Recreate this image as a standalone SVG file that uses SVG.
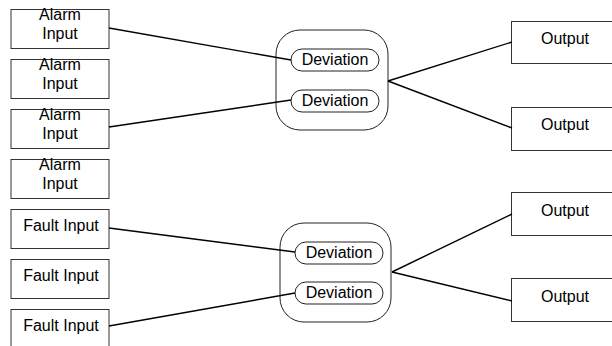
<svg xmlns="http://www.w3.org/2000/svg" width="612" height="346" viewBox="0 0 612 346">
<style>
.box{fill:#fff;stroke:#333;stroke-width:1}
.grp{fill:#fff;stroke:#222;stroke-width:1}
.pill{fill:#fff;stroke:#222;stroke-width:1}
.t{font-family:"Liberation Sans",Arial,sans-serif;font-size:16px;fill:#000;text-anchor:middle}
.c{stroke:#000;stroke-width:1.4;fill:none}
</style>
<rect width="612" height="346" fill="#fff"/>
<g id="in1"><rect class="box" x="11" y="9.5" width="98" height="39"/><text class="t" x="60" y="20">Alarm</text><text class="t" x="60" y="39">Input</text></g>
<g id="in2"><rect class="box" x="11" y="59.5" width="98" height="39"/><text class="t" x="60" y="70">Alarm</text><text class="t" x="60" y="89">Input</text></g>
<g id="in3"><rect class="box" x="11" y="109.5" width="98" height="39"/><text class="t" x="60" y="120">Alarm</text><text class="t" x="60" y="139">Input</text></g>
<g id="in4"><rect class="box" x="11" y="159.5" width="98" height="39"/><text class="t" x="60" y="170">Alarm</text><text class="t" x="60" y="189">Input</text></g>
<g id="in5"><rect class="box" x="11" y="209.5" width="98" height="39"/><text class="t" x="61" y="231">Fault Input</text></g>
<g id="in6"><rect class="box" x="11" y="259.5" width="98" height="39"/><text class="t" x="61" y="281">Fault Input</text></g>
<g id="in7"><rect class="box" x="11" y="309.5" width="98" height="39"/><text class="t" x="61" y="331">Fault Input</text></g>
<g id="grp1"><rect class="grp" x="276" y="30" width="112" height="100" rx="24"/>
<g id="dev1"><rect class="pill" x="291" y="49" width="88" height="22" rx="11"/><text class="t" x="335" y="64.5">Deviation</text></g>
<g id="dev2"><rect class="pill" x="291" y="90" width="88" height="22" rx="11"/><text class="t" x="335" y="105.5">Deviation</text></g></g>
<g id="grp2"><rect class="grp" x="280" y="223" width="111" height="99" rx="24"/>
<g id="dev3"><rect class="pill" x="295" y="242" width="88" height="22" rx="11"/><text class="t" x="339" y="257.5">Deviation</text></g>
<g id="dev4"><rect class="pill" x="295" y="282" width="88" height="22" rx="11"/><text class="t" x="339" y="297.5">Deviation</text></g></g>
<g id="out1"><rect class="box" x="511.5" y="21.5" width="101" height="42"/><text class="t" x="565" y="44">Output</text></g>
<g id="out2"><rect class="box" x="511.5" y="107.5" width="101" height="43"/><text class="t" x="565" y="130">Output</text></g>
<g id="out3"><rect class="box" x="511.5" y="192.5" width="101" height="43"/><text class="t" x="565" y="216">Output</text></g>
<g id="out4"><rect class="box" x="511.5" y="278.5" width="101" height="43"/><text class="t" x="565" y="302">Output</text></g>
<g id="connectors">
<path class="c" d="M109,28 L291,60"/>
<path class="c" d="M109,127 L291,100"/>
<path class="c" d="M388,81 L512,42"/>
<path class="c" d="M388,81 L512,128"/>
<path class="c" d="M109,228 L295,252"/>
<path class="c" d="M109,326 L295,293"/>
<path class="c" d="M392,272 L512,214"/>
<path class="c" d="M392,272 L512,301"/>
</g>
</svg>
